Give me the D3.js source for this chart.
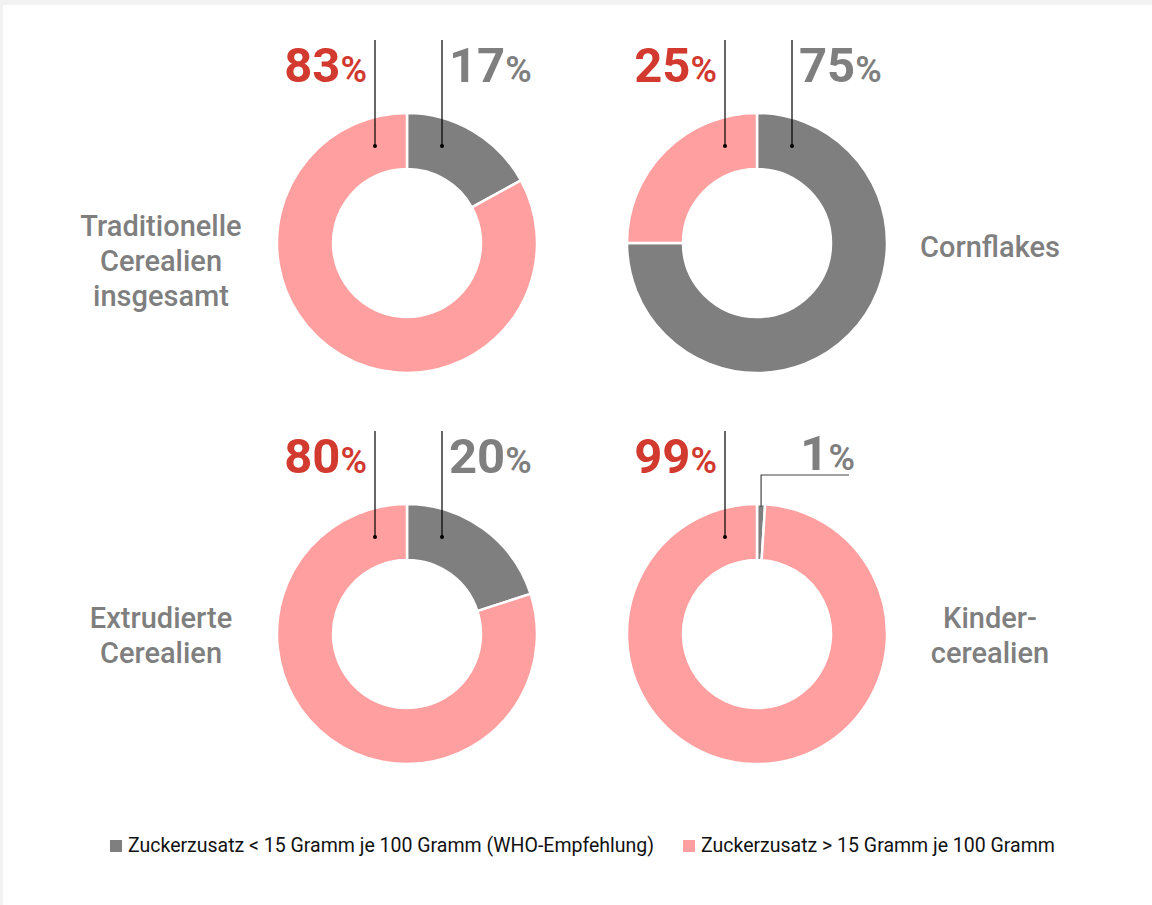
<!DOCTYPE html>
<html><head><meta charset="utf-8">
<script src="https://cdn.jsdelivr.net/npm/d3@7"></script>
<style>
html,body{margin:0;padding:0;background:#f2f2f2;}
svg{display:block;}
</style></head>
<body>
<svg id="chart" width="1152" height="905"></svg>
<script>
// ---- data ----
const categories = ["Traditionelle Cerealien insgesamt", "Cornflakes", "Extrudierte Cerealien", "Kindercerealien"];
const categoryLines = [["Traditionelle", "Cerealien", "insgesamt"], ["Cornflakes"], ["Extrudierte", "Cerealien"], ["Kinder-", "cerealien"]];
const belowWHO = [17, 75, 20, 1];   // Zuckerzusatz < 15 g / 100 g
const aboveWHO = [83, 25, 80, 99];  // Zuckerzusatz > 15 g / 100 g
const seriesNames = ["Zuckerzusatz < 15 Gramm je 100 Gramm (WHO-Empfehlung)", "Zuckerzusatz > 15 Gramm je 100 Gramm"];

// ---- style / layout ----
const GREY = "#7f7f7f", PINK = "#ff9f9f", RED = "#d2392f";
const FONT = "Roboto, 'Liberation Sans', sans-serif";
const labelCenterOffset = [18, 4, 1, 1];

const svg = d3.select("#chart");
svg.append("rect").attr("x", 3).attr("y", 5).attr("width", 1149).attr("height", 900).attr("fill", "#fff");

const colX = d3.scalePoint().domain([0, 1]).range([407, 757]);
const rowY = d3.scalePoint().domain([0, 1]).range([243, 634]);
const color = d3.scaleOrdinal().domain([0, 1]).range([GREY, PINK]);

const outerR = 130, innerR = 74;
const pie = d3.pie().sort(null).value(d => d.value);
const arc = d3.arc().innerRadius(innerR).outerRadius(outerR);

function pctLabel(g, x, y, anchor, value, fill) {
  const t = g.append("text").attr("x", x).attr("y", y).attr("text-anchor", anchor)
    .attr("font-family", FONT).attr("font-weight", 700).attr("fill", fill);
  t.append("tspan").attr("font-size", 49).text(value);
  t.append("tspan").attr("font-size", 36).attr("font-weight", 600).text("%");
}

categories.forEach((cat, i) => {
  const col = i % 2, row = Math.floor(i / 2);
  const cx = colX(col), cy = rowY(row);
  const g = svg.append("g").attr("transform", `translate(${cx},${cy})`);
  const data = [{ s: 0, value: belowWHO[i] }, { s: 1, value: aboveWHO[i] }];
  const arcs = pie(data);
  g.selectAll("path").data(arcs).join("path")
    .attr("d", arc)
    .attr("fill", d => color(d.data.s))
    .attr("stroke", "#fff").attr("stroke-width", 2.5);

  const lineTop = -203, dotY = -97;
  const pinkX = -32;
  g.append("line").attr("x1", pinkX).attr("x2", pinkX).attr("y1", lineTop).attr("y2", dotY)
    .attr("stroke", "#000").attr("stroke-width", 1.2);
  g.append("circle").attr("cx", pinkX).attr("cy", dotY).attr("r", 2).attr("fill", "#000");
  pctLabel(g, pinkX - 8, -161, "end", aboveWHO[i], RED);

  if (belowWHO[i] >= 5) {
    const greyX = 35;
    g.append("line").attr("x1", greyX).attr("x2", greyX).attr("y1", lineTop).attr("y2", dotY)
      .attr("stroke", "#000").attr("stroke-width", 1.2);
    g.append("circle").attr("cx", greyX).attr("cy", dotY).attr("r", 2).attr("fill", "#000");
    pctLabel(g, greyX + 7, -161, "start", belowWHO[i], GREY);
  } else {
    const a = (arcs[0].startAngle + arcs[0].endAngle) / 2;
    const px = Math.sin(a) * outerR, py = -Math.cos(a) * outerR;
    const elbowY = -159;
    g.append("path").attr("d", `M${px},${py + 3}V${elbowY}H${92}`)
      .attr("fill", "none").attr("stroke", "#444").attr("stroke-width", 1.2);
    pctLabel(g, 98, -164, "end", belowWHO[i], GREY);
  }

  const lines = categoryLines[i];
  const lx = col === 0 ? 161 : 990;
  const lh = 35;
  const y0 = cy + labelCenterOffset[i] - (lines.length - 1) * lh / 2 + 10;
  const t = svg.append("text").attr("text-anchor", "middle")
    .attr("font-family", FONT).attr("font-weight", 500).attr("font-size", 29).attr("fill", GREY);
  lines.forEach((ln, k) => t.append("tspan").attr("x", lx).attr("y", y0 + k * lh).text(ln));
});

// legend
const legendX = [110, 683];
seriesNames.forEach((name, k) => {
  svg.append("rect").attr("x", legendX[k]).attr("y", 840).attr("width", 12).attr("height", 12).attr("fill", color(k));
  svg.append("text").attr("x", legendX[k] + 18).attr("y", 852)
    .attr("font-family", FONT).attr("font-size", 19.5).attr("fill", "#111").text(name);
});
</script>
</body></html>
